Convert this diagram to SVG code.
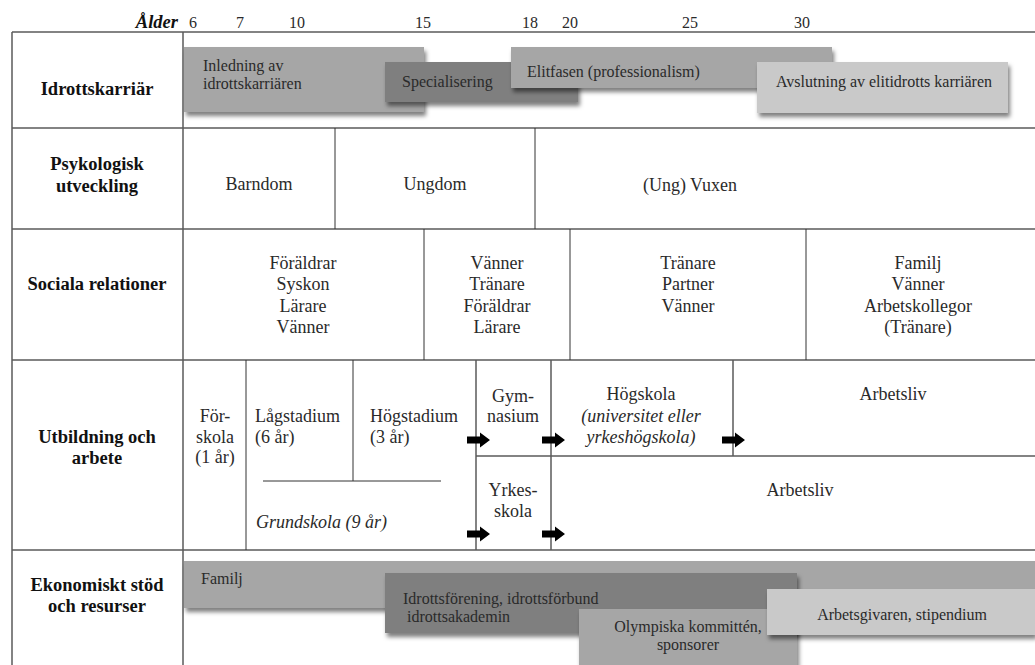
<svg xmlns="http://www.w3.org/2000/svg" width="1035" height="665" viewBox="0 0 1035 665">
<style>
text{font-family:"Liberation Serif","Times New Roman",serif;font-size:18px;fill:#2a2a2a}
.bar text{font-size:16px}
.hd{font-size:16px}
.b{font-weight:bold;font-size:18.5px;fill:#111}
.c{text-anchor:middle}
.i{font-style:italic}
.g{stroke:#5a5a5a;stroke-width:1.5;fill:none}
.t{stroke:#333;stroke-width:1;fill:none}
.l1{fill:#a6a6a6}
.d{fill:#7f7f7f}
.l2{fill:#c9c9c9}
.a{fill:#000}
</style>
<defs>
<filter id="sh" x="-5%" y="-20%" width="115%" height="160%">
<feDropShadow dx="2" dy="4" stdDeviation="2" flood-color="#000" flood-opacity="0.5"/>
</filter>
<path id="arr" d="M0,-3.5 H13 V-7.5 L23,0 L13,7.5 V3.5 H0 Z"/>
</defs>
<g id="header">
<text x="178" y="28" class="b i" font-size="16" text-anchor="end">Ålder</text>
<text x="193" y="28" class="c hd">6</text>
<text x="240" y="28" class="c hd">7</text>
<text x="297" y="28" class="c hd">10</text>
<text x="423" y="28" class="c hd">15</text>
<text x="530" y="28" class="c hd">18</text>
<text x="570" y="28" class="c hd">20</text>
<text x="690" y="28" class="c hd">25</text>
<text x="802" y="28" class="c hd">30</text>
</g>
<g id="grid">
<line class="g" x1="12" y1="32" x2="1035" y2="32"/>
<line class="g" x1="12" y1="128" x2="1035" y2="128"/>
<line class="g" x1="12" y1="229" x2="1035" y2="229"/>
<line class="g" x1="12" y1="360" x2="1035" y2="360"/>
<line class="g" x1="12" y1="550" x2="1035" y2="550"/>
<line class="g" x1="12" y1="32" x2="12" y2="665"/>
<line class="g" x1="183" y1="32" x2="183" y2="665"/>
</g>
<g id="row-idrottskarriar">
<text x="97" y="95" class="b c">Idrottskarriär</text>
<g id="inledning" class="bar"><rect class="l1" x="184" y="47" width="240" height="65" filter="url(#sh)"/>
<text x="203" y="71">Inledning av</text><text x="203" y="89">idrottskarriären</text></g>
<g id="specialisering" class="bar"><rect class="d" x="385" y="62" width="193" height="40" filter="url(#sh)"/>
<text x="402" y="87">Specialisering</text></g>
<g id="elitfasen" class="bar"><rect class="l1" x="511" y="47" width="321" height="41" filter="url(#sh)"/>
<text x="527" y="77">Elitfasen (professionalism)</text></g>
<g id="avslutning" class="bar"><rect class="l2" x="757" y="62" width="251" height="51" filter="url(#sh)"/>
<text x="884" y="87" class="c">Avslutning av elitidrotts karriären</text></g>
</g>
<g id="row-psykologisk">
<text x="97" y="170" class="b c">Psykologisk</text>
<text x="97" y="192" class="b c">utveckling</text>
<line class="t" x1="335" y1="128" x2="335" y2="229"/>
<line class="t" x1="535" y1="128" x2="535" y2="229"/>
<text x="259" y="190" class="c">Barndom</text>
<text x="435" y="190" class="c">Ungdom</text>
<text x="690" y="191" class="c">(Ung) Vuxen</text>
</g>
<g id="row-sociala">
<text x="97" y="290" class="b c">Sociala relationer</text>
<line class="t" x1="424" y1="229" x2="424" y2="360"/>
<line class="t" x1="570" y1="229" x2="570" y2="360"/>
<line class="t" x1="806" y1="229" x2="806" y2="360"/>
<text x="303" y="269" class="c">Föräldrar</text><text x="303" y="290" class="c">Syskon</text><text x="303" y="312" class="c">Lärare</text><text x="303" y="333" class="c">Vänner</text>
<text x="497" y="269" class="c">Vänner</text><text x="497" y="290" class="c">Tränare</text><text x="497" y="312" class="c">Föräldrar</text><text x="497" y="333" class="c">Lärare</text>
<text x="688" y="269" class="c">Tränare</text><text x="688" y="290" class="c">Partner</text><text x="688" y="312" class="c">Vänner</text>
<text x="918" y="269" class="c">Familj</text><text x="918" y="290" class="c">Vänner</text><text x="918" y="312" class="c">Arbetskollegor</text><text x="918" y="333" class="c">(Tränare)</text>
</g>
<g id="row-utbildning">
<text x="97" y="443" class="b c">Utbildning och</text>
<text x="97" y="464" class="b c">arbete</text>
<line class="t" x1="246" y1="360" x2="246" y2="550"/>
<line class="t" x1="353" y1="360" x2="353" y2="481"/>
<line class="t" x1="263" y1="481" x2="441" y2="481"/>
<line class="g" x1="476" y1="360" x2="476" y2="550"/>
<line class="g" x1="551" y1="360" x2="551" y2="550"/>
<line class="g" x1="476" y1="456" x2="1035" y2="456"/>
<line class="g" x1="733" y1="360" x2="733" y2="456"/>
<text x="215" y="422" class="c">För-</text><text x="215" y="443" class="c">skola</text><text x="215" y="463" class="c">(1 år)</text>
<text x="255" y="422">Lågstadium</text><text x="255" y="443">(6 år)</text>
<text x="370" y="422">Högstadium</text><text x="370" y="443">(3 år)</text>
<text x="256" y="528" class="i">Grundskola (9 år)</text>
<text x="513" y="402" class="c">Gym-</text><text x="513" y="422" class="c">nasium</text>
<text x="513" y="496" class="c">Yrkes-</text><text x="513" y="517" class="c">skola</text>
<text x="641" y="400" class="c">Högskola</text>
<text x="641" y="422" class="c i">(universitet eller</text>
<text x="641" y="443" class="c i">yrkeshögskola)</text>
<text x="893" y="400" class="c">Arbetsliv</text>
<text x="800" y="496" class="c">Arbetsliv</text>
</g>
<g id="connectors">
<use href="#arr" class="a" x="467" y="440"/>
<use href="#arr" class="a" x="542" y="440"/>
<use href="#arr" class="a" x="722" y="440"/>
<use href="#arr" class="a" x="467" y="534"/>
<use href="#arr" class="a" x="542" y="534"/>
</g>
<g id="row-ekonomiskt">
<text x="97" y="591" class="b c">Ekonomiskt stöd</text>
<text x="97" y="612" class="b c">och resurser</text>
<g id="familj" class="bar"><rect class="l1" x="184" y="561" width="851" height="47" filter="url(#sh)"/>
<text x="201" y="584">Familj</text></g>
<g id="idrottsforening" class="bar"><rect class="d" x="385" y="573" width="412" height="60" filter="url(#sh)"/>
<text x="403" y="604">Idrottsförening, idrottsförbund</text><text x="407" y="622">idrottsakademin</text></g>
<g id="olympiska" class="bar"><rect class="l1" x="579" y="609" width="218" height="60" filter="url(#sh)"/>
<text x="688" y="632" class="c">Olympiska kommittén,</text><text x="688" y="650" class="c">sponsorer</text></g>
<g id="arbetsgivaren" class="bar"><rect class="l2" x="767" y="589" width="268" height="46" filter="url(#sh)"/>
<text x="902" y="620" class="c">Arbetsgivaren, stipendium</text></g>
</g>
</svg>
